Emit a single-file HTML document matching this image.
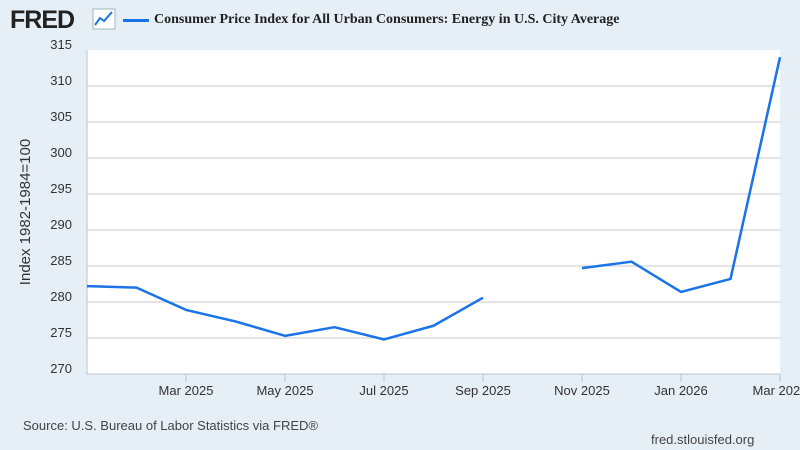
<!DOCTYPE html>
<html><head><meta charset="utf-8"><style>
body{margin:0;width:800px;height:450px;background:#e6eef6;font-family:"Liberation Sans",sans-serif;overflow:hidden;position:relative}
.t{position:absolute}
</style></head><body>
<div class="t" style="left:10px;top:6px;font-size:25px;font-weight:bold;color:#222;letter-spacing:-1px">FRED</div>
<svg class="t" style="left:92px;top:8px" width="24" height="22"><rect x="1" y="1" width="22" height="20" fill="#fff" stroke="#9bb" stroke-width="1"/><polyline points="3,17 8,10 12,13 20,4" fill="none" stroke="#1a73d9" stroke-width="2"/></svg>
<div class="t" style="left:123px;top:19px;width:26px;height:3px;background:#1a73e8"></div>
<div class="t" style="left:154px;top:12px;font-family:'Liberation Serif',serif;font-weight:bold;font-size:14px;color:#222">Consumer Price Index for All Urban Consumers: Energy in U.S. City Average</div>
<svg class="t" style="left:0;top:0" width="800" height="450" id="c"></svg>
<div class="t" style="left:23px;top:418px;font-size:13px;color:#444">Source: U.S. Bureau of Labor Statistics via FRED®</div>
<div class="t" style="left:651px;top:432px;font-size:13px;color:#444">fred.stlouisfed.org</div>
<script>
const months=['2025-01','2025-02','2025-03','2025-04','2025-05','2025-06','2025-07','2025-08','2025-09','2025-10','2025-11','2025-12','2026-01','2026-02','2026-03'];
const values=[282.2,282.0,278.9,277.3,275.3,276.5,274.8,276.7,280.6,null,284.7,285.6,281.4,283.2,314.0];
const yTicks=[270,275,280,285,290,295,300,305,310,315];
const xTickLabels=['Mar 2025','May 2025','Jul 2025','Sep 2025','Nov 2025','Jan 2026','Mar 2026'];
const xTickIdx=[2,4,6,8,10,12,14];
const NS='http://www.w3.org/2000/svg',svg=document.getElementById('c');
const L=87,R=780,T=50,B=374;
const x=i=>L+(R-L)*i/(months.length-1);
const y=v=>B-(v-270)/(315-270)*(B-T);
function mk(t,a){const e=document.createElementNS(NS,t);for(const k in a)e.setAttribute(k,a[k]);svg.appendChild(e);return e;}
const bg=mk('rect',{x:L,y:T,width:R-L,height:B-T,fill:'#fff'});


yTicks.forEach(v=>{
 if(v>270&&v<315){const g=mk('line',{x1:L,x2:R,y1:y(v),y2:y(v),stroke:'#c8c8c8','stroke-width':1});
 
 }
 const t=mk('text',{x:72,y:y(v)-1,'text-anchor':'end','font-size':13,fill:'#333'});
 t.textContent=v;
 
 
});
const ax=mk('polyline',{points:`${L},${T} ${L},${B} ${R},${B}`,fill:'none',stroke:'#bcc3cc','stroke-width':1});


xTickIdx.forEach((i,k)=>{
 const tk=mk('line',{x1:x(i),x2:x(i),y1:B,y2:B+8,stroke:'#bcc3cc','stroke-width':1});
 
 
 const t=mk('text',{x:x(i),y:395,'text-anchor':'middle','font-size':13,fill:'#333'});
 t.textContent=xTickLabels[k];
 
 
});
const yt=mk('text',{x:0,y:0,transform:'translate(30,212) rotate(-90)','text-anchor':'middle','font-size':15,fill:'#333'});
yt.textContent='Index 1982-1984=100';


let segs=[],cur=[];
values.forEach((v,i)=>{if(v==null){if(cur.length)segs.push(cur);cur=[];}else cur.push(x(i)+','+y(v));});
if(cur.length)segs.push(cur);
segs.forEach(s=>{
 const p=mk('polyline',{points:s.join(' '),fill:'none',stroke:'#1a73e8','stroke-width':2.5,'stroke-linejoin':'round'});
 
 
});
</script>
</body></html>
